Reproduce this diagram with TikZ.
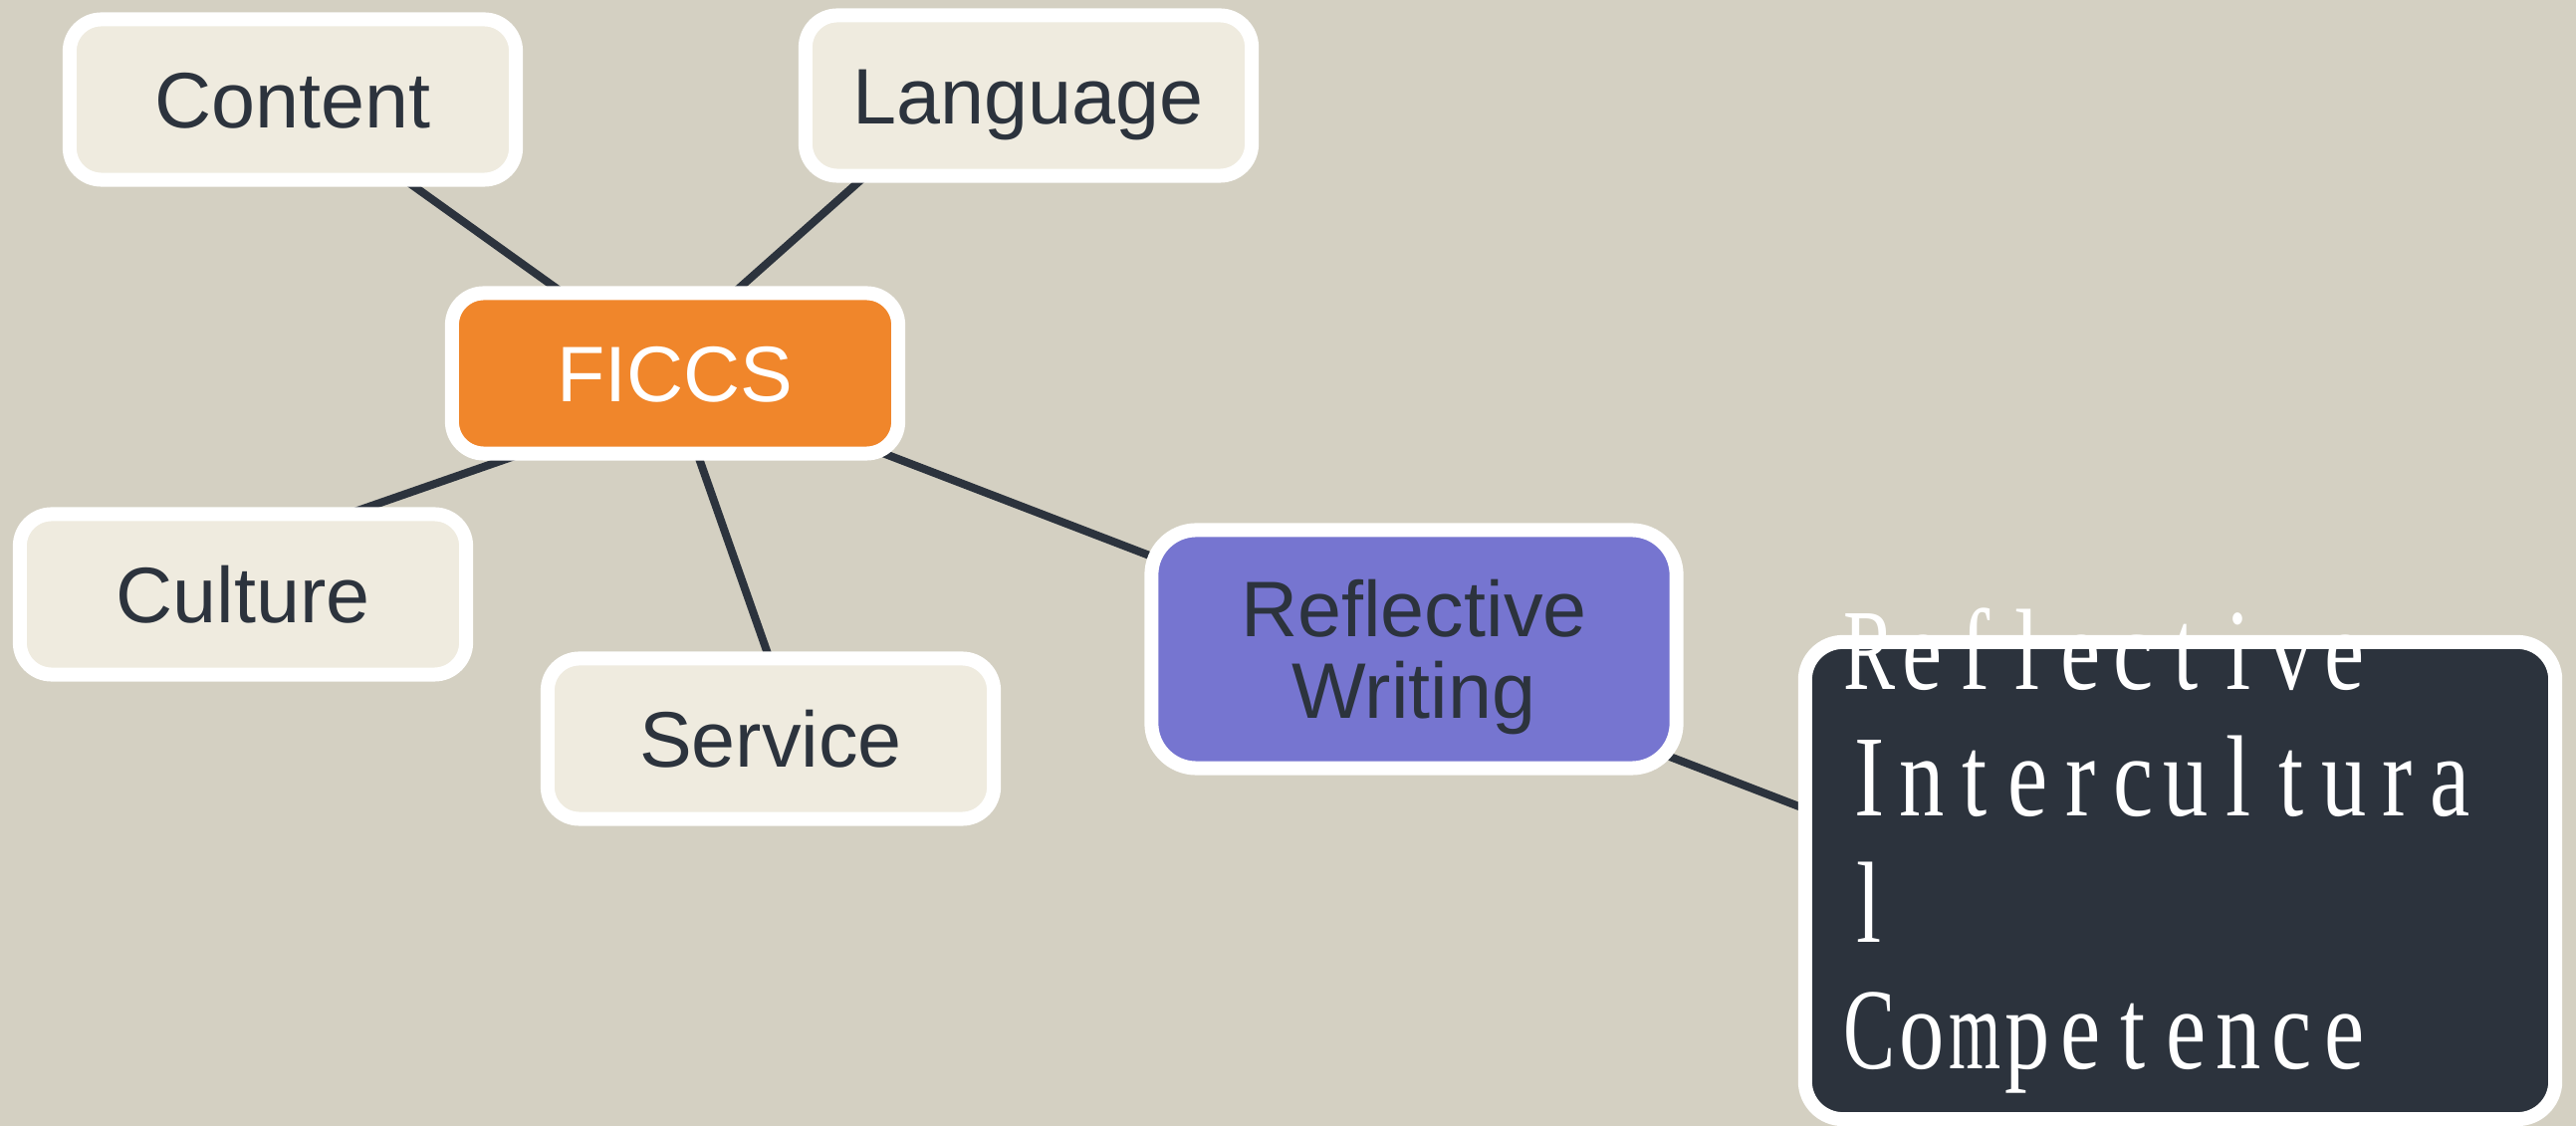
\documentclass[tikz,border=0pt]{standalone}
\usepackage{fontspec}
\usepackage{graphicx}
\setmainfont{Liberation Sans}
\newfontfamily\compfont[FakeStretch=0.78]{Liberation Serif}
\usetikzlibrary{calc}
\definecolor{bgc}{HTML}{D4D0C2}
\definecolor{lightc}{HTML}{EFEBDF}
\definecolor{orangec}{HTML}{F0862B}
\definecolor{purplec}{HTML}{7675D0}
\definecolor{darkc}{HTML}{2C333D}
\pgfdeclarelayer{bglayer}
\pgfdeclarelayer{edgelayer}
\pgfsetlayers{bglayer,edgelayer,main}
\makeatletter
\newsavebox\cellglyph
\def\cellchar#1{\sbox\cellglyph{#1}%
  \makebox[0.53cm][c]{\ifdim\wd\cellglyph>0.52cm\resizebox{0.52cm}{\height}{#1}\else#1\fi}}
\def\cellword#1{\cell@loop#1\relax}
\def\cell@loop#1{\ifx#1\relax\else\cellchar{#1}\expandafter\cell@loop\fi}
\makeatother
\begin{document}
\begin{tikzpicture}[x=0.01cm,y=-0.01cm,
  box/.style={draw=white, line width=0.14cm, rounded corners=0.32cm,
    minimum width=4.48cm, minimum height=1.61cm, inner sep=0pt,
    text height=0.58cm, text depth=0.02cm,
    font=\fontsize{22.5}{23.3}\selectfont, text=darkc, fill=lightc},
  link/.style={draw=darkc, line width=0.08cm}]
\useasboundingbox (0,0) rectangle (2587,1131);
\begin{pgfonlayer}{bglayer}
\fill[bgc] (0,0) rectangle (2587,1131);
\end{pgfonlayer}
\node[box] (content) at (294,100) {Content};
\node[box] (language) at (1033,96) {Language};
\node[box, fill=orangec, text=white] (ficcs) at (678,375) {FICCS};
\node[box] (culture) at (244,597) {Culture};
\node[box] (service) at (774,742) {Service};
\node[box, fill=purplec, minimum width=5.27cm, minimum height=2.39cm,
  rounded corners=0.45cm, text height=, text depth=] (reflective) at (1420,652)
  {\raisebox{0pt}[1.4cm][0.02cm]{\begin{tabular}[b]{@{}c@{}}Reflective\\Writing\end{tabular}}};
\node[draw=white, line width=0.14cm, fill=darkc, rounded corners=0.38cm,
  minimum width=7.53cm, minimum height=4.79cm, inner sep=0pt] (dark) at (2189.5,884.5) {};
\node[anchor=north west, inner sep=0pt, text=white, align=left,
  font=\compfont\fontsize{33}{36.1}\selectfont] (darktext) at (1850,610)
  {\cellword{Reflective}\\\cellword{Intercultura}\\\cellword{l}\\\cellword{Competence}};
\begin{pgfonlayer}{edgelayer}
\draw[link] (content.center) -- (ficcs.center);
\draw[link] ([xshift=-0.32cm]ficcs.center) -- ([xshift=-0.73cm]language.center);
\draw[link] ([yshift=-0.27cm]ficcs.center) -- ([yshift=0.44cm]culture.center);
\draw[link] ([xshift=-0.06cm]ficcs.center) -- ([xshift=0.27cm]service.center);
\draw[link] (ficcs.center) -- ([yshift=-0.08cm]reflective.center);
\draw[link] ([yshift=-0.09cm]reflective.center) -- ([yshift=-0.73cm]dark.center);
\end{pgfonlayer}
\end{tikzpicture}
\end{document}
